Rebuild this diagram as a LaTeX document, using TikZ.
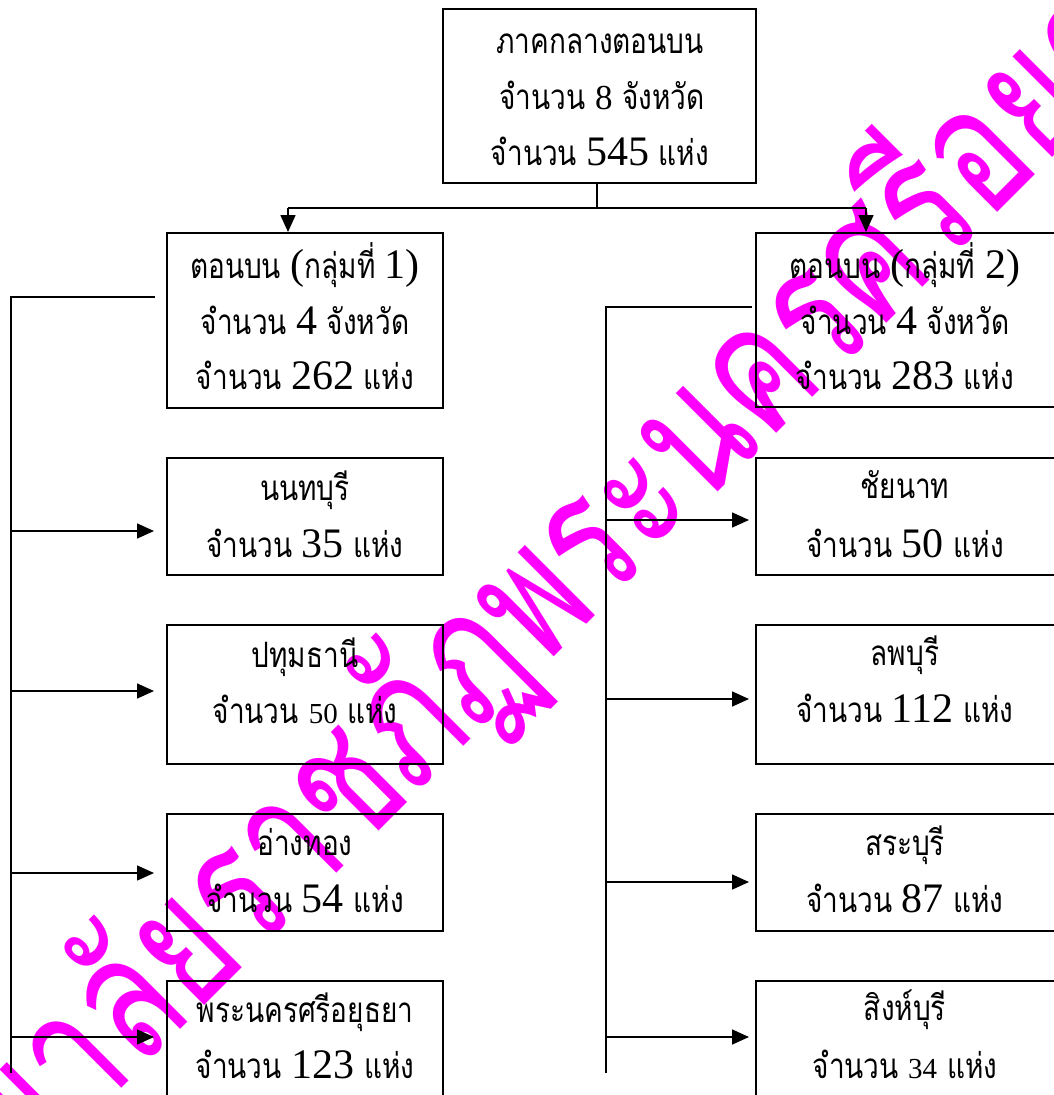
\documentclass[tikz,border=0pt]{standalone}
\usepackage{fontspec}
\usepackage{graphicx}
\setmainfont{Liberation Serif}
\newfontfamily\thaifont[Script=Thai, FakeStretch=0.8]{Loma}
\newfontfamily\wmfont[Script=Thai]{Loma}
\newfontfamily\numfont{Liberation Serif}
\usetikzlibrary{arrows.meta}
\definecolor{wmcol}{RGB}{255,0,255}
\newcommand\nb{\numfont\fontsize{42}{44}\selectfont}
\newcommand\nm{\numfont\fontsize{35}{38}\selectfont}
\newcommand\ns{\numfont\fontsize{29}{32}\selectfont}
\newcommand\gapsp{\hspace{10pt}}
\newcommand\wmtext[1]{\scalebox{1}[1.35]{\wmfont\fontsize{132}{132}\selectfont #1}}
\tikzset{
  box/.style={draw, line width=2pt, inner sep=0pt},
  ln/.style={anchor=base, inner sep=0pt, font=\thaifont\fontsize{35}{40}\selectfont},
  conn/.style={line width=1.6pt},
  arr/.style={line width=1.6pt, -{Triangle[length=17pt,width=15pt]}},
  wm/.style={rotate=45, text=wmcol, inner sep=0pt, outer sep=0pt},
}
\begin{document}
\begin{tikzpicture}[x=1pt,y=-1pt]
\useasboundingbox (0,0) rectangle (1054,1095);
\clip (0,0) rectangle (1054,1095);
% watermark
\coordinate (wmsplit) at (540,670);
\node[wm, anchor=base east] (wmA) at (wmsplit) {\wmtext{มหาวิทยาลัยราชภัฏ}};
\node[wm, anchor=base west] (wmB) at (wmsplit) {\wmtext{พระนครศรีอยุธยา}};
% boxes
\node[box, minimum width=313pt, minimum height=174pt] (top) at (599.5,96) {};
\node[box, minimum width=276pt, minimum height=175pt] (g1) at (305,320.5) {};
\node[box, minimum width=310pt, minimum height=174pt] (g2) at (911,320) {};
\node[box, minimum width=276pt, minimum height=117pt] (nont) at (305,516.5) {};
\node[box, minimum width=276pt, minimum height=139pt] (pathum) at (305,694.5) {};
\node[box, minimum width=276pt, minimum height=117pt] (angthong) at (305,872.5) {};
\node[box, minimum width=276pt, minimum height=130pt] (ayut) at (305,1046) {};
\node[box, minimum width=310pt, minimum height=117pt] (chainat) at (911,516.5) {};
\node[box, minimum width=310pt, minimum height=139pt] (lopburi) at (911,694.5) {};
\node[box, minimum width=310pt, minimum height=117pt] (saraburi) at (911,872.5) {};
\node[box, minimum width=310pt, minimum height=130pt] (singburi) at (911,1046) {};
% top connectors
\coordinate (tj) at (597,208);
\coordinate (tl) at (288,208);
\coordinate (tr) at (866,208);
\draw[conn] (top.south -| tj) -- (tj);
\draw[conn] (tl) -- (tr);
\draw[arr] (tl) -- (tl |- g1.north);
\draw[arr] (tr) -- (tr |- g2.north);
% left bus
\coordinate (ls) at (155,297);
\coordinate (lc) at (11,297);
\coordinate (le) at (11,1073);
\draw[conn] (ls) -- (lc) -- (le);
\coordinate (l1) at (11,531);
\coordinate (l2) at (11,691);
\coordinate (l3) at (11,873);
\coordinate (l4) at (11,1037);
\draw[arr, shorten >=12pt] (l1) -- (l1 -| nont.west);
\draw[arr, shorten >=12pt] (l2) -- (l2 -| pathum.west);
\draw[arr, shorten >=12pt] (l3) -- (l3 -| angthong.west);
\draw[arr, shorten >=12pt] (l4) -- (l4 -| ayut.west);
% right bus
\coordinate (rs) at (752,307);
\coordinate (rc) at (606,307);
\coordinate (re) at (606,1073);
\draw[conn] (rs) -- (rc) -- (re);
\coordinate (r1) at (606,520);
\coordinate (r2) at (606,699);
\coordinate (r3) at (606,882);
\coordinate (r4) at (606,1037);
\draw[arr, shorten >=6pt] (r1) -- (r1 -| chainat.west);
\draw[arr, shorten >=6pt] (r2) -- (r2 -| lopburi.west);
\draw[arr, shorten >=6pt] (r3) -- (r3 -| saraburi.west);
\draw[arr, shorten >=6pt] (r4) -- (r4 -| singburi.west);
% texts
\node[ln] (top1) at (600,53) {ภาคกลางตอนบน};
\node[ln] (top2) at (602,109) {จำนวน {\nm 8} จังหวัด};
\node[ln] (top3) at (600,165) {จำนวน {\nb 545} แห่ง};
\node[ln] (g1a) at (305,278) {ตอนบน {\nb (}กลุ่มที่ {\nb 1)}};
\node[ln] (g1b) at (305,334) {จำนวน {\nb 4} จังหวัด};
\node[ln] (g1c) at (305,389) {จำนวน {\nb 262} แห่ง};
\node[ln] (g2a) at (905,278) {ตอนบน {\nb (}กลุ่มที่\gapsp{\nb 2)}};
\node[ln] (g2b) at (905,334) {จำนวน {\nb 4} จังหวัด};
\node[ln] (g2c) at (905,389) {จำนวน {\nb 283} แห่ง};
\node[ln] (nont1) at (305,500) {นนทบุรี};
\node[ln] (nont2) at (305,557) {จำนวน {\nb 35} แห่ง};
\node[ln] (pathum1) at (305,667) {ปทุมธานี};
\node[ln] (pathum2) at (305,723) {จำนวน\gapsp{\ns 50} แห่ง};
\node[ln] (angthong1) at (305,855) {อ่างทอง};
\node[ln] (angthong2) at (305,912) {จำนวน {\nb 54}\gapsp แห่ง};
\node[ln] (ayut1) at (305,1022) {พระนครศรีอยุธยา};
\node[ln] (ayut2) at (305,1078) {จำนวน {\nb 123}\gapsp แห่ง};
\node[ln] (chainat1) at (905,498) {ชัยนาท};
\node[ln] (chainat2) at (905,557) {จำนวน {\nb 50}\gapsp แห่ง};
\node[ln] (lopburi1) at (905,665) {ลพบุรี};
\node[ln] (lopburi2) at (905,722) {จำนวน {\nb 112}\gapsp แห่ง};
\node[ln] (saraburi1) at (905,855) {สระบุรี};
\node[ln] (saraburi2) at (905,912) {จำนวน {\nb 87} แห่ง};
\node[ln] (singburi1) at (905,1020) {สิงห์บุรี};
\node[ln] (singburi2) at (905,1078) {จำนวน {\ns 34}\gapsp แห่ง};
\end{tikzpicture}
\end{document}
